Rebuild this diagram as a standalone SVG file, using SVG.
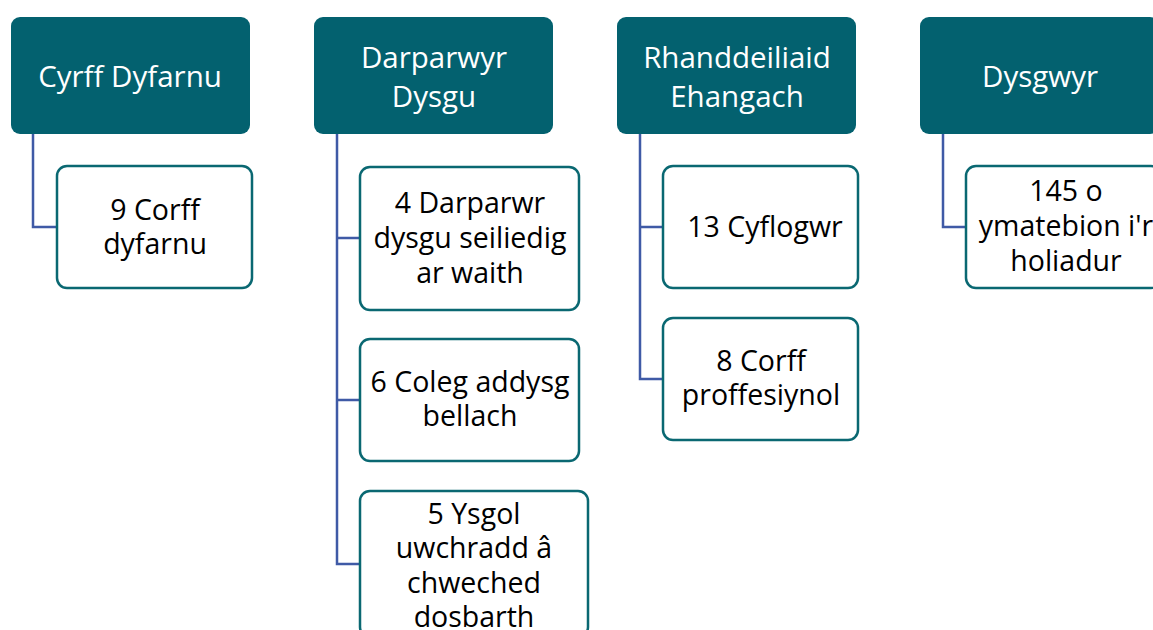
<svg xmlns="http://www.w3.org/2000/svg" width="1153" height="630" viewBox="0 0 1153 630">
<style>
.hdr{fill:#03616F}
.hdr-t{font-family:"Open Sans","Noto Sans",sans-serif;font-size:29.5px;fill:#FFFFFF;text-anchor:middle}
.box{fill:#FFFFFF;stroke:#0A6872;stroke-width:2.5}
.box-t{font-family:"Open Sans","Noto Sans",sans-serif;font-size:28.5px;fill:#000000;text-anchor:middle}
.conn{fill:none;stroke:#3F5AA6;stroke-width:2.5}
</style>
<rect width="1153" height="630" fill="#FFFFFF"/>
<g id="connectors">
<path class="conn" d="M33,134 V227 H57"/>
<path class="conn" d="M337,134 V564 H360 M337,238 H360 M337,400 H360"/>
<path class="conn" d="M640,134 V379 H663 M640,227 H663"/>
<path class="conn" d="M943,134 V227 H966"/>
</g>
<g id="h1"><rect class="hdr" x="11" y="17" width="239" height="117" rx="9"/><text class="hdr-t" x="130" y="87">Cyrff Dyfarnu</text></g>
<g id="h2"><rect class="hdr" x="314" y="17" width="239" height="117" rx="9"/><text class="hdr-t" x="434" y="68">Darparwyr</text><text class="hdr-t" x="434" y="107">Dysgu</text></g>
<g id="h3"><rect class="hdr" x="617" y="17" width="239" height="117" rx="9"/><text class="hdr-t" x="737" y="68">Rhanddeiliaid</text><text class="hdr-t" x="737" y="107">Ehangach</text></g>
<g id="h4"><rect class="hdr" x="920" y="17" width="239" height="117" rx="9"/><text class="hdr-t" x="1040" y="87">Dysgwyr</text></g>
<g id="c1"><rect class="box" x="57" y="166" width="195" height="122" rx="10"/><text class="box-t" x="155" y="220">9 Corff</text><text class="box-t" x="155" y="254">dyfarnu</text></g>
<g id="c2a"><rect class="box" x="360" y="167" width="219" height="143" rx="10"/><text class="box-t" x="470" y="213">4 Darparwr</text><text class="box-t" x="470" y="248">dysgu seiliedig</text><text class="box-t" x="470" y="283">ar waith</text></g>
<g id="c2b"><rect class="box" x="360" y="339" width="219" height="122" rx="10"/><text class="box-t" x="470" y="392">6 Coleg addysg</text><text class="box-t" x="470" y="426">bellach</text></g>
<g id="c2c"><rect class="box" x="360" y="491" width="228" height="146" rx="10"/><text class="box-t" x="474" y="524">5 Ysgol</text><text class="box-t" x="474" y="558">uwchradd â</text><text class="box-t" x="474" y="593">chweched</text><text class="box-t" x="474" y="627">dosbarth</text></g>
<g id="c3a"><rect class="box" x="663" y="166" width="195" height="122" rx="10"/><text class="box-t" x="765" y="237">13 Cyflogwr</text></g>
<g id="c3b"><rect class="box" x="663" y="318" width="195" height="122" rx="10"/><text class="box-t" x="761" y="371">8 Corff</text><text class="box-t" x="761" y="405">proffesiynol</text></g>
<g id="c4"><rect class="box" x="966" y="166" width="195" height="122" rx="10"/><text class="box-t" x="1066" y="201">145 o</text><text class="box-t" x="1066" y="236">ymatebion i'r</text><text class="box-t" x="1066" y="271">holiadur</text></g>
</svg>
